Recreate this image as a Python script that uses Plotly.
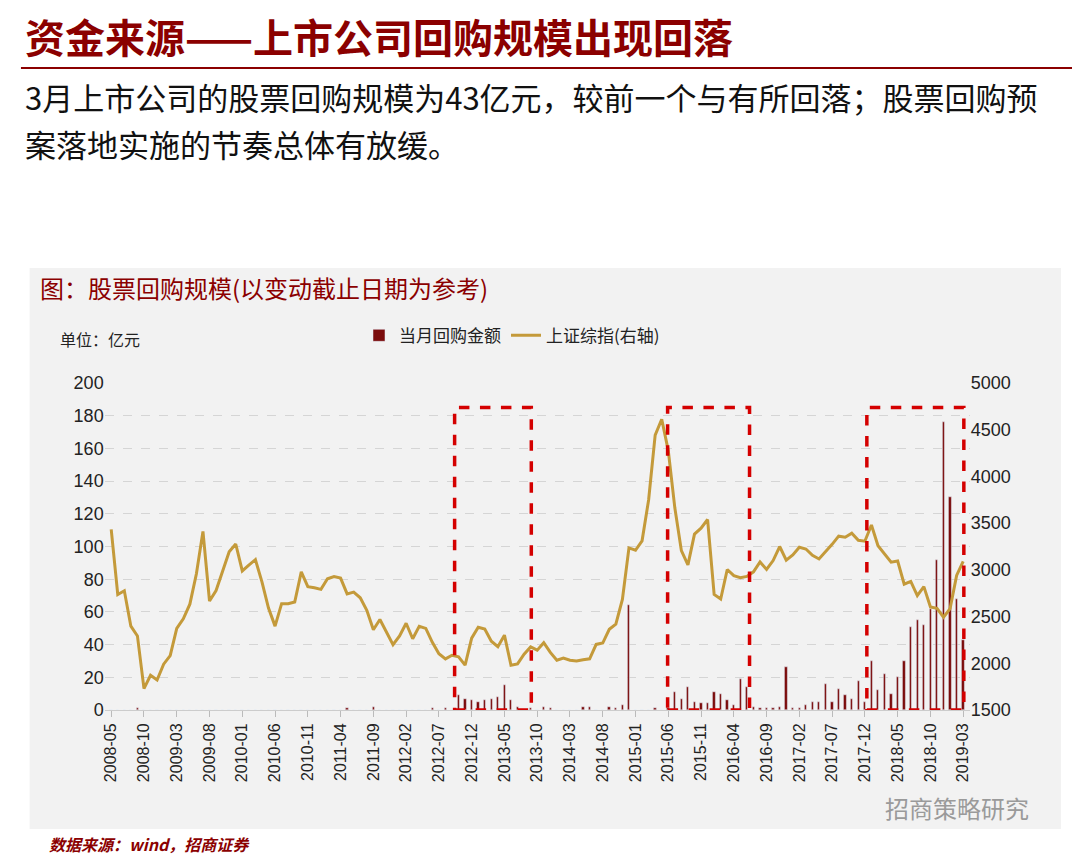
import plotly.graph_objects as go

# monthly, 2008-05 .. 2019-03
start_year, start_month = 2008, 5
sse = [3433, 2736, 2776, 2397, 2293, 1729, 1871, 1821,
       1991, 2082, 2373, 2477, 2633, 2959, 3412, 2667, 2779, 2996, 3195, 3277,
       2989, 3051, 3110, 2871, 2592, 2398, 2638, 2638, 2656, 2979, 2820, 2808,
       2791, 2905, 2928, 2912, 2743, 2762, 2701, 2568, 2359, 2469, 2333, 2199,
       2292, 2429, 2263, 2397, 2373, 2225, 2103, 2047, 2086, 2069, 1980, 2269,
       2385, 2366, 2237, 2178, 2301, 1979, 1994, 2098, 2175, 2141, 2220, 2116,
       2033, 2056, 2033, 2026, 2039, 2048, 2202, 2217, 2364, 2420, 2683, 3235,
       3210, 3311, 3748, 4442, 4612, 4277, 3664, 3206, 3053, 3383, 3446, 3539,
       2738, 2688, 3004, 2938, 2917, 2930, 2979, 3085, 3005, 3100, 3250, 3104,
       3159, 3242, 3223, 3155, 3117, 3192, 3273, 3361, 3349, 3393, 3317, 3307,
       3481, 3259, 3169, 3082, 3095, 2847, 2876, 2725, 2821, 2603, 2588, 2494,
       2585, 2941, 3091]
n = len(sse)
months = []
y, m = start_year, start_month
for _ in range(n):
    months.append(f"{y}-{m:02d}")
    m += 1
    if m > 12:
        y, m = y + 1, 1

buyback = [0] * n
buyback_known = {4: 1, 36: 1, 40: 2, 49: 1, 51: 1, 53: 9, 54: 7, 55: 6, 56: 5, 57: 6, 58: 7,
                 59: 8, 60: 15, 61: 6, 62: 2, 64: 1, 66: 2, 67: 1, 72: 2, 73: 2, 76: 2, 77: 1,
                 78: 3, 79: 64, 83: 1, 85: 1, 86: 11, 87: 7, 88: 14, 89: 5, 90: 4, 91: 4,
                 92: 11, 93: 10, 94: 6, 95: 3, 96: 19, 97: 14, 98: 2, 99: 1, 100: 1, 101: 1,
                 102: 2, 103: 26, 104: 1, 105: 1, 106: 3, 107: 5, 108: 5, 109: 16, 110: 5,
                 111: 13, 112: 9, 113: 7, 114: 18, 115: 5, 116: 30, 117: 12, 118: 22, 119: 10,
                 120: 20, 121: 30, 122: 51, 123: 55, 124: 52, 125: 62, 126: 92, 127: 176,
                 128: 130, 129: 68, 130: 43}
for k, v in buyback_known.items():
    buyback[k] = v

boxes = [(52.4, 64.1), (84.9, 97.4), (115.3, 130.1)]

x = list(range(n))
fig = go.Figure()
fig.add_trace(go.Bar(x=x, y=buyback, name="当月回购金额", marker_color="#7b0c0c",
                     width=0.35))
fig.add_trace(go.Scatter(x=x, y=sse, name="上证综指(右轴)", yaxis="y2", mode="lines",
                         line=dict(color="#c49a3a", width=3)))

# background of chart panel
fig.add_shape(type="rect", xref="paper", yref="paper", x0=0.02, x1=0.975, y0=0.043, y1=0.697,
              fillcolor="#f2f2f2", line_width=0, layer="below")
# title rule
fig.add_shape(type="line", xref="paper", yref="paper", x0=0.012, x1=1.0, y0=0.93, y1=0.93,
              line=dict(color="#8b0000", width=2))
for x0, x1 in boxes:
    fig.add_shape(type="rect", x0=x0, x1=x1, y0=0, y1=185,
                  line=dict(color="#d40000", width=3.5, dash="dash"))

cn = "Noto Sans CJK SC"
anns = [
    dict(x=0.014, y=1.003, text="<b>资金来源——上市公司回购规模出现回落</b>", size=40, color="#8b0000"),
    dict(x=0.014, y=0.925, text="3月上市公司的股票回购规模为43亿元，较前一个与有所回落；股票回购预",
         size=31, color="#111111"),
    dict(x=0.014, y=0.871, text="案落地实施的节奏总体有放缓。", size=31, color="#111111"),
    dict(x=0.028, y=0.697, text="图：股票回购规模(以变动截止日期为参考)", size=24, color="#8b0000"),
    dict(x=0.046, y=0.631, text="单位：亿元", size=16, color="#222222"),
    dict(x=0.036, y=0.042, text="<b><i>数据来源：wind，招商证券</i></b>", size=16, color="#8b0000"),
    dict(x=0.81, y=0.091, text="招商策略研究", size=24, color="#9a9a9a"),
]
for a in anns:
    fig.add_annotation(x=a["x"], y=a["y"], xref="paper", yref="paper", text=a["text"],
                       showarrow=False, xanchor="left", yanchor="top", align="left",
                       font=dict(family=cn, size=a["size"], color=a["color"]))

fig.update_layout(
    width=1080, height=858, margin=dict(l=0, r=0, t=0, b=0),
    paper_bgcolor="white", plot_bgcolor="rgba(0,0,0,0)",
    font=dict(family="Liberation Sans, " + cn, size=18, color="#222222"),
    bargap=0,
    legend=dict(orientation="h", x=0.325, y=0.618, xanchor="left", yanchor="middle",
                bgcolor="rgba(0,0,0,0)", font=dict(family=cn, size=17)),
    xaxis=dict(domain=[0.0895, 0.8905], range=[-1, 131], tickmode="array", automargin=False,
               tickvals=x[::5], ticktext=months[::5], tickangle=-90,
               showgrid=False, ticks="outside", ticklen=6, tickcolor="#bbbbbb",
               showline=True, linecolor="#cccccc", tickfont=dict(size=16)),
    yaxis=dict(domain=[0.1818, 0.5629], range=[0, 200], dtick=20, showgrid=True,
               automargin=False, gridcolor="#d5d5d5", griddash="dash", zeroline=False),
    yaxis2=dict(overlaying="y", side="right", range=[1500, 5000], dtick=500,
                automargin=False, showgrid=False, zeroline=False),
)
fig.write_html("out.html")
